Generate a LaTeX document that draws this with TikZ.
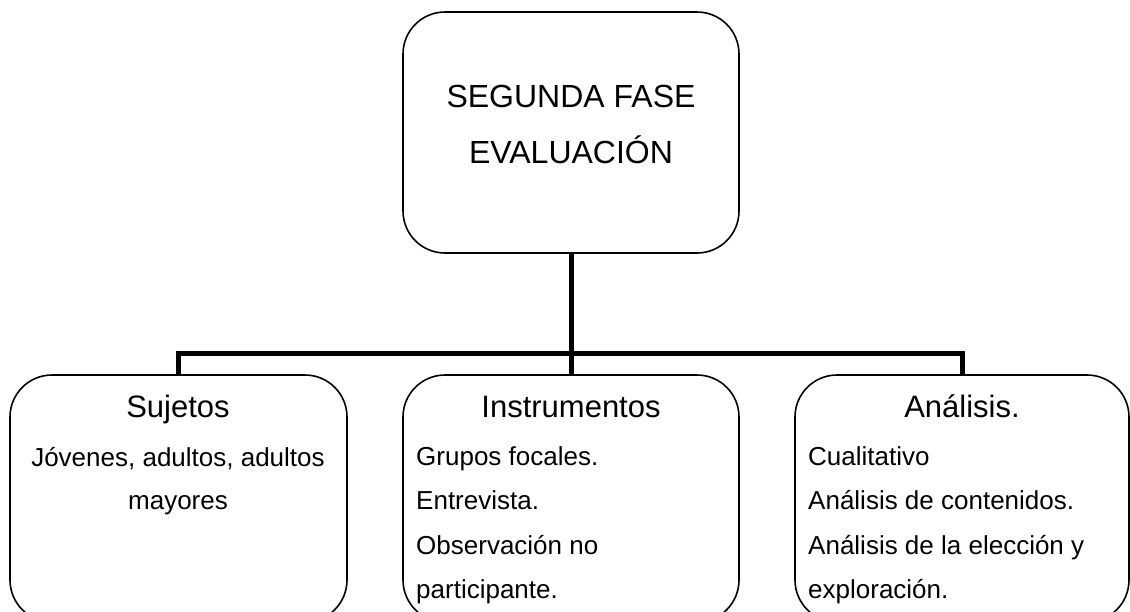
\documentclass[tikz,border=0pt]{standalone}
\usepackage{fontspec}
\setmainfont{Liberation Sans}
\begin{document}
\begin{tikzpicture}[x=1pt,y=-1pt,
  box/.style={draw=black,line width=1.6pt,rounded corners=42pt,inner sep=0pt},
  conn/.style={draw=black,line width=5pt,line join=miter},
  title/.style={font=\fontsize{32}{38}\selectfont,anchor=base,inner sep=0pt},
  head/.style={font=\fontsize{31}{37}\selectfont,anchor=base,inner sep=0pt},
  body/.style={font=\fontsize{26}{31}\selectfont,anchor=base west,inner sep=0pt},
  bodyc/.style={font=\fontsize{26}{31}\selectfont,anchor=base,inner sep=0pt}]
\useasboundingbox (0,0) rectangle (1130,611);
\clip (0,0) rectangle (1130,611);
\fill[white] (0,0) rectangle (1130,611);
% boxes
\node[box,minimum width=336pt,minimum height=241pt] (top) at (571,132.5) {};
\node[box,minimum width=337pt,minimum height=247pt] (l) at (178.5,498.5) {};
\node[box,minimum width=336pt,minimum height=247pt] (m) at (571,498.5) {};
\node[box,minimum width=334pt,minimum height=247pt] (r) at (962,498.5) {};
\coordinate (hb) at (571,353);
% connectors
\draw[conn] (top.south) -- (m.north);
\draw[conn] (l.north) -- (l.north |- hb) -- (r.north |- hb) -- (r.north);
% texts
\node[title] (t1) at (571,107) {SEGUNDA FASE};
\node[title] (t2) at (571,163) {EVALUACIÓN};
\node[head] (lh) at (178,417) {Sujetos};
\node[bodyc] (l1) at (178,466) {Jóvenes, adultos, adultos};
\node[bodyc] (l2) at (178,509) {mayores};
\node[head] (mh) at (571,417) {Instrumentos};
\node[body] (m1) at (416,465) {Grupos focales.};
\node[body] (m2) at (416,509) {Entrevista.};
\node[body] (m3) at (416,554) {Observación no};
\node[body] (m4) at (416,598) {participante.};
\node[head] (rh) at (962,417) {Análisis.};
\node[body] (r1) at (808,465) {Cualitativo};
\node[body] (r2) at (808,509) {Análisis de contenidos.};
\node[body] (r3) at (808,554) {Análisis de la elección y};
\node[body] (r4) at (808,598) {exploración.};
\end{tikzpicture}
\end{document}
